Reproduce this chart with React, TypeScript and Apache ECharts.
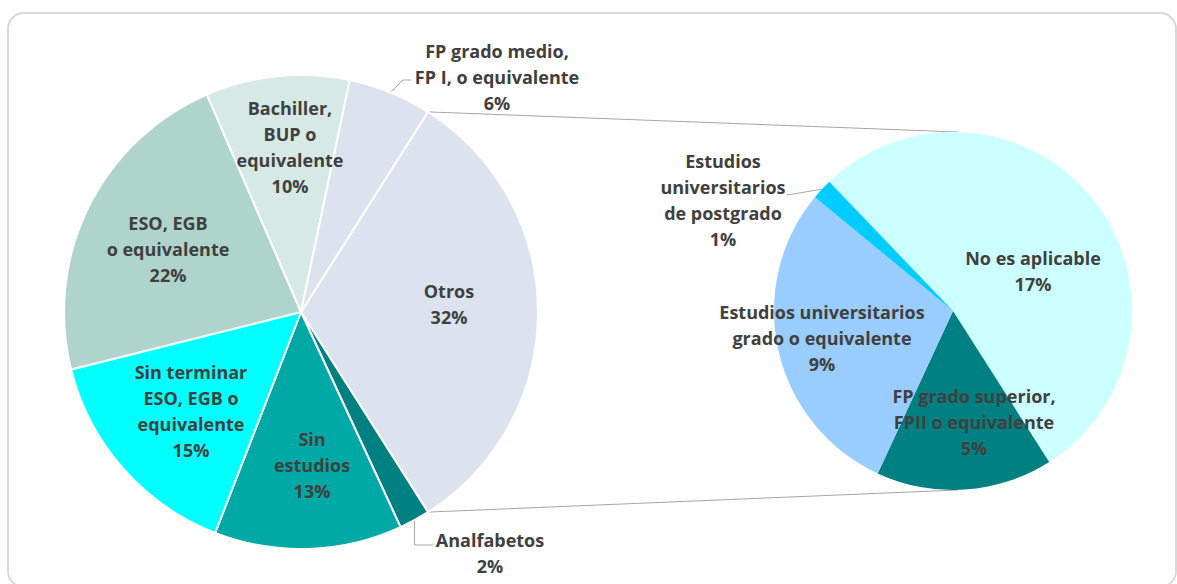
import React, { useEffect, useRef } from "react";
import * as echarts from "echarts";

// ---- data ----
const mainCategories = [
  "Otros",
  "Analfabetos",
  "Sin\nestudios",
  "Sin terminar\nESO, EGB o\nequivalente",
  "ESO, EGB\no equivalente",
  "Bachiller,\nBUP o\nequivalente",
  "FP grado medio,\nFP I, o equivalente",
];
const mainValues = [32.0, 2.1, 12.8, 15.2, 22.4, 9.8, 5.7];

const subCategories = [
  "No es aplicable",
  "FP grado superior,\nFPII o equivalente",
  "Estudios universitarios\ngrado o equivalente",
  "Estudios\nuniversitarios\nde postgrado",
];
const subValues = [17.0, 5.1, 9.3, 0.6];

// ---- layout / style ----
const W = 1177;
const H = 584;
const C1 = [301, 312];
const R1 = 237;
const C2 = [953, 311];
const R2 = 179;
const SUB_START = 133.75;

const mainColors = ["#DDE2EF", "#008080", "#00A9A5", "#00FFFF", "#AFD4CC", "#D6E9E5", "#DDE2EF"];
const subColors = ["#CCFFFF", "#008080", "#99CCFF", "#00CCFF"];

// label block centres, relative to pie centre
const mainLabelPos = [
  [148, -8],
  [189, 241],
  [11, 153],
  [-110, 99],
  [-133, -63],
  [-11, -165],
  [196, -235],
];
const subLabelPos = [
  [80, -40],
  [21, 111],
  [-131, 27],
  [-230, -111],
];

const TEXT = "#404040";
const FONT = "Open Sans";

function sum(a: number[]) {
  return a.reduce((s, v) => s + v, 0);
}
// compass angle (deg, clockwise from north) of slice boundaries
function boundaries(values: number[], startMath: number) {
  const total = sum(values);
  const start = 90 - startMath;
  const out: number[] = [start];
  let acc = 0;
  for (const v of values) {
    acc += v;
    out.push(start + (360 * acc) / total);
  }
  return out;
}
function polar(c: number[], r: number, compassDeg: number) {
  const t = (compassDeg * Math.PI) / 180;
  return [c[0] + r * Math.sin(t), c[1] - r * Math.cos(t)];
}

export default function App() {
  const ref = useRef<HTMLDivElement>(null);
  useEffect(() => {
    if (!ref.current) return;
    const chart = echarts.init(ref.current, undefined, { renderer: "svg" });

    const mainStart = (180 * mainValues[0]) / sum(mainValues);
    const mb = boundaries(mainValues, mainStart);
    const sb = boundaries(subValues, SUB_START);
    const mid = (b: number[], i: number) => (b[i] + b[i + 1]) / 2;

    // connector lines from "Otros" edges to the sub pie
    const topA = polar(C1, R1, mb[0]);
    const botA = polar(C1, R1, mb[1]);
    const topB = [C2[0] + 5, C2[1] - R2];
    const botB = [C2[0] + 5, C2[1] + R2];

    // leader lines
    const fpEdge = polar(C1, R1, mid(mb, 6));
    const anEdge = polar(C1, R1, mid(mb, 1));
    const pgEdge = polar(C2, R2, mid(sb, 3));
    const lineStyle = { stroke: "#A6A6A6", lineWidth: 1, fill: "none" };

    const labelCommon = {
      show: true,
      position: "inside",
      color: TEXT,
      fontFamily: FONT,
      fontWeight: "bold",
      fontSize: 18,
      lineHeight: 26,
      formatter: (p: any) => `${p.name}\n${Math.round(p.value)}%`,
    };

    chart.setOption({
      animation: false,
      backgroundColor: "#ffffff",
      graphic: [
        {
          type: "rect",
          shape: { x: 8, y: 13, width: 1168, height: 574, r: 16 },
          style: { fill: "none", stroke: "#D9D9D9", lineWidth: 2 },
          silent: true,
          z: -10,
        },
        { type: "line", shape: { x1: topA[0], y1: topA[1], x2: topB[0], y2: topB[1] }, style: lineStyle, silent: true },
        { type: "line", shape: { x1: botA[0], y1: botA[1], x2: botB[0], y2: botB[1] }, style: lineStyle, silent: true },
        {
          type: "polyline",
          shape: { points: [fpEdge, [C1[0] + 102, C1[1] - 232], [C1[0] + 110, C1[1] - 232]] },
          style: lineStyle,
          silent: true,
        },
        {
          type: "polyline",
          shape: { points: [anEdge, [anEdge[0], C1[1] + 233], [C1[0] + 132, C1[1] + 233]] },
          style: lineStyle,
          silent: true,
        },
        {
          type: "polyline",
          shape: { points: [pgEdge, [C2[0] - 166, C2[1] - 116]] },
          style: lineStyle,
          silent: true,
        },
      ],
      series: [
        {
          type: "pie",
          center: C1,
          radius: [0, R1],
          startAngle: mainStart,
          clockwise: true,
          avoidLabelOverlap: false,
          silent: true,
          itemStyle: { borderColor: "#ffffff", borderWidth: 2 },
          label: labelCommon,
          labelLine: { show: false },
          labelLayout: (p: any) => {
            const o = mainLabelPos[p.dataIndex];
            return { x: C1[0] + o[0], y: C1[1] + o[1], align: "center", verticalAlign: "middle" };
          },
          data: mainValues.map((v, i) => ({
            name: mainCategories[i],
            value: v,
            itemStyle: { color: mainColors[i] },
          })),
        },
        {
          type: "pie",
          center: C2,
          radius: [0, R2],
          startAngle: SUB_START,
          clockwise: true,
          avoidLabelOverlap: false,
          silent: true,
          itemStyle: { borderWidth: 0 },
          label: labelCommon,
          labelLine: { show: false },
          labelLayout: (p: any) => {
            const o = subLabelPos[p.dataIndex];
            return { x: C2[0] + o[0], y: C2[1] + o[1], align: "center", verticalAlign: "middle" };
          },
          data: subValues.map((v, i) => ({
            name: subCategories[i],
            value: v,
            itemStyle: { color: subColors[i] },
          })),
        },
      ],
    });
    return () => chart.dispose();
  }, []);
  return (
    <div
      ref={ref}
      style={{ position: "fixed", left: 0, top: 0, width: W, height: H }}
    />
  );
}
